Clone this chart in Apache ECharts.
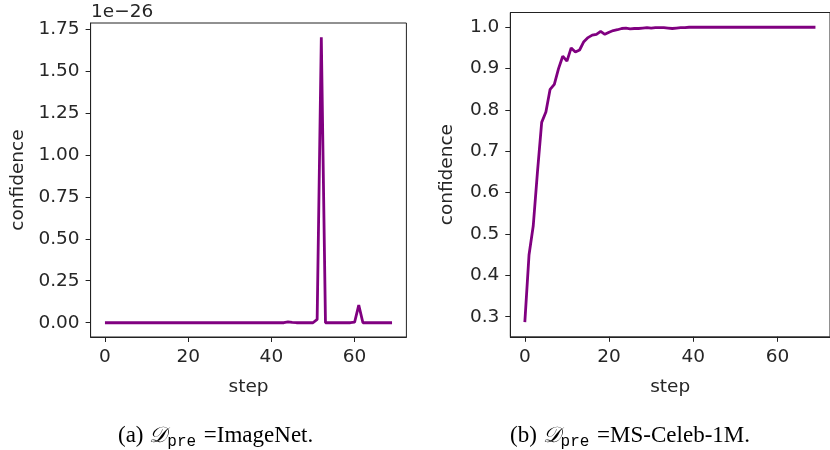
<!DOCTYPE html>
<html>
<head>
<meta charset="utf-8">
<script src="https://cdn.jsdelivr.net/npm/echarts@6/dist/echarts.min.js"></script>
<style>
html,body{margin:0;padding:0;background:#fff;}
#c{width:830px;height:450px;}
</style>
</head>
<body>
<div id="c"></div>
<script>
// ---- data ----
const steps = Array.from({length: 70}, (_, i) => i);
// (a) ImageNet: confidence in units of 1e-26
const confImageNet = [
  0,0,0,0,0,0,0,0,0,0,
  0,0,0,0,0,0,0,0,0,0,
  0,0,0,0,0,0,0,0,0,0,
  0,0,0,0,0,0,0,0,0,0,
  0,0,0,0,0.005,0.002,0,0,0,0,
  0,0.02,1.70,0,0,0,0,0,0,0,
  0.003,0.105,0,0,0,0,0,0,0,0
];
// (b) MS-Celeb-1M
const confCeleb = [
  0.287,0.45,0.52,0.65,0.77,0.795,0.85,0.862,0.90,0.93,
  0.918,0.95,0.94,0.945,0.965,0.975,0.981,0.983,0.99,0.983,
  0.988,0.992,0.994,0.997,0.998,0.996,0.997,0.997,0.998,0.999,
  0.998,0.999,0.999,0.999,0.998,0.997,0.998,0.999,0.999,1.0,
  1.0,1.0,1.0,1.0,1.0,1.0,1.0,1.0,1.0,1.0,
  1.0,1.0,1.0,1.0,1.0,1.0,1.0,1.0,1.0,1.0,
  1.0,1.0,1.0,1.0,1.0,1.0,1.0,1.0,1.0,1.0
];
const xTicks = [0, 20, 40, 60];
const yTicksA = [0, 0.25, 0.5, 0.75, 1.0, 1.25, 1.5, 1.75];
const yTicksB = [0.3, 0.4, 0.5, 0.6, 0.7, 0.8, 0.9, 1.0];
const offsetTextA = '1e\u221226';
const xName = 'step';
const yName = 'confidence';

// ---- chart ----
const FONT = 'DejaVu Sans';
const TXT = '#262626';
const TICK_FS = 18.5;
const NAME_FS = 18.5;
const chart = echarts.init(document.getElementById('c'), null, {renderer: 'canvas'});

function xAxisCfg(idx) {
  return {
    type: 'value', gridIndex: idx, min: -3.45, max: 72.45,
    name: xName, nameLocation: 'middle', nameGap: 41,
    nameTextStyle: {fontFamily: FONT, fontSize: NAME_FS, color: TXT},
    axisLine: {show: true, onZero: false, lineStyle: {color: '#222', width: 1}},
    splitLine: {show: false},
    axisTick: {show: true, inside: false, length: 5, customValues: xTicks, lineStyle: {color: '#222', width: 1}},
    axisLabel: {customValues: xTicks, fontFamily: FONT, fontSize: TICK_FS, color: TXT, margin: 11}
  };
}
function yAxisCfg(idx, min, max, ticks, dec, gap) {
  return {
    type: 'value', gridIndex: idx, min: min, max: max,
    name: yName, nameLocation: 'middle', nameGap: gap, nameRotate: 90,
    nameTextStyle: {fontFamily: FONT, fontSize: NAME_FS, color: TXT},
    axisLine: {show: true, onZero: false, lineStyle: {color: '#222', width: 1}},
    splitLine: {show: false},
    axisTick: {show: true, inside: false, length: 5, customValues: ticks, lineStyle: {color: '#222', width: 1}},
    axisLabel: {customValues: ticks, fontFamily: FONT, fontSize: TICK_FS, color: TXT, margin: 11,
      formatter: v => Number(v).toFixed(dec)}
  };
}

const lineStyle = {color: '#800080', width: 2.8};

chart.setOption({
  animation: false,
  backgroundColor: '#fff',
  grid: [
    {left: 90.6, top: 23, width: 315.8, height: 314, show: true, borderColor: '#222', borderWidth: 1, backgroundColor: 'transparent'},
    {left: 510.3, top: 12.5, width: 323.8, height: 324.3, show: true, borderColor: '#222', borderWidth: 1, backgroundColor: 'transparent'}
  ],
  xAxis: [xAxisCfg(0), xAxisCfg(1)],
  yAxis: [
    yAxisCfg(0, -0.085, 1.785, yTicksA, 2, 63),
    yAxisCfg(1, 0.2514, 1.0357, yTicksB, 1, 54)
  ],
  series: [
    {type: 'line', xAxisIndex: 0, yAxisIndex: 0, showSymbol: false, lineStyle: lineStyle, itemStyle: {color: '#800080'},
     data: steps.map((s, i) => [s, confImageNet[i]])},
    {type: 'line', xAxisIndex: 1, yAxisIndex: 1, showSymbol: false, lineStyle: lineStyle, itemStyle: {color: '#800080'},
     data: steps.map((s, i) => [s, confCeleb[i]])}
  ],
  graphic: [
    {type: 'text', x: 91, y: 12, style: {text: offsetTextA, font: '18.5px "DejaVu Sans"', fill: TXT, verticalAlign: 'middle'}},
    {type: 'text', x: 118, y: 436, style: {
      text: '{n|(a) }{d|\uD835\uDC9F}{s|pre}{n| =ImageNet.}',
      verticalAlign: 'middle',
      rich: {
        n: {fontFamily: 'Liberation Serif', fontSize: 23, fill: '#000'},
        d: {fontFamily: 'DejaVu Serif', fontStyle: 'italic', fontSize: 22, fill: '#000'},
        s: {fontFamily: 'Liberation Mono', fontSize: 16, fill: '#000', padding: [11, 2, 0, 0]}
      }}},
    {type: 'text', x: 510, y: 436, style: {
      text: '{n|(b) }{d|\uD835\uDC9F}{s|pre}{n| =MS-Celeb-1M.}',
      verticalAlign: 'middle',
      rich: {
        n: {fontFamily: 'Liberation Serif', fontSize: 23, fill: '#000'},
        d: {fontFamily: 'DejaVu Serif', fontStyle: 'italic', fontSize: 22, fill: '#000'},
        s: {fontFamily: 'Liberation Mono', fontSize: 16, fill: '#000', padding: [11, 2, 0, 0]}
      }}}
  ]
});
</script>
</body>
</html>
